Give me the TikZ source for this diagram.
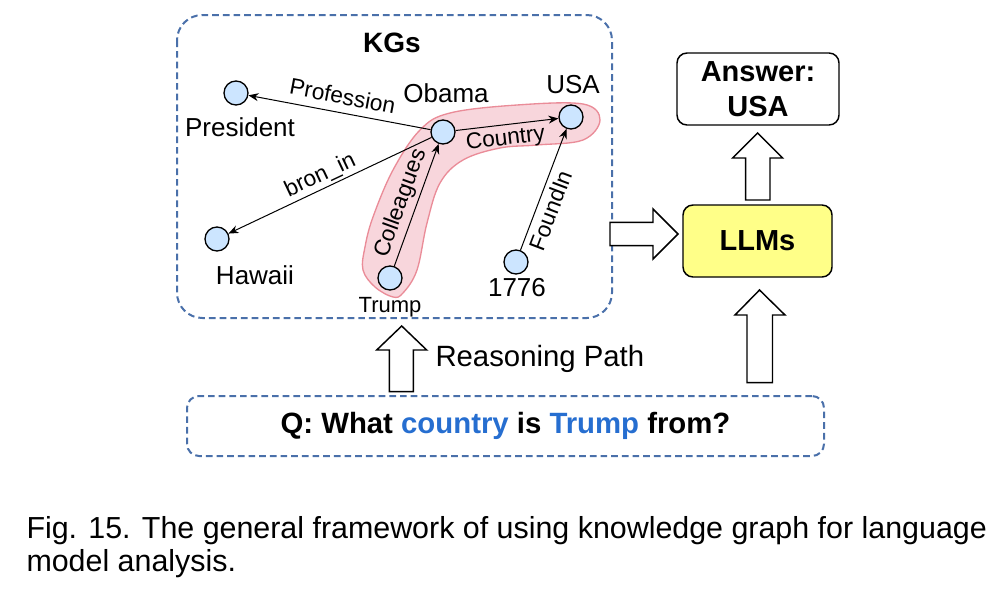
\documentclass[tikz,border=0pt]{standalone}
\usepackage{fontspec}
\setmainfont{Liberation Sans}
\usetikzlibrary{arrows.meta}

\definecolor{kgblue}{RGB}{74,112,170}
\definecolor{nodeblue}{RGB}{204,229,255}
\definecolor{bandfill}{RGB}{248,214,220}
\definecolor{bandline}{RGB}{234,140,152}
\definecolor{qblue}{RGB}{38,110,208}
\definecolor{llmyellow}{RGB}{255,255,136}

\tikzset{every picture/.style={line width=0.75pt}}
\tikzset{
  entity/.style={circle, draw, fill=nodeblue, minimum size=18pt, inner sep=0pt, line width=1pt},
  entlabel/.style={anchor=base, inner sep=0pt, font=\fontsize{19.5}{22}\selectfont},
  kgedge/.style={-{Stealth[length=7.5pt,width=6pt]}, line width=0.75pt},
  edgelabel/.style={inner sep=1.5pt, font=\fontsize{17}{19}\selectfont},
  dashbox/.style={draw=kgblue, line width=1.5pt, dash pattern={on 5pt off 3pt}, rounded corners=9pt},
  bigarrow/.style={draw, fill=white, line width=1.1pt, line join=miter},
}

\begin{document}
\begin{tikzpicture}[x=0.75pt,y=0.75pt,yscale=-1,xscale=1]
        \useasboundingbox (0,0) rectangle (1007,589);

        %Shape: KG frame
        \draw [dashbox, rounded corners=19pt] (177,15) rectangle (612,318);
        %Shape: reasoning path band
        \draw [draw=bandline, fill=bandfill, line width=1pt] plot [smooth cycle, tension=0.6] coordinates {(393,297) (375,287) (363,270) (365,247) (373,217) (393,170) (420,130) (450,113) (517,105) (583,104) (600,120) (583,140) (537,145) (500,148) (463,160) (440,183) (427,223) (417,270) (403,293)};

        % Text Node
        \node [anchor=base, inner sep=0pt, font=\fontsize{21}{24}\selectfont\bfseries] (kgtitle) at (392,52) {KGs};

        % Entities
        \node [entity] (president) at (236,93) {};
        \node [entity] (hawaii) at (217,239) {};
        \node [entity] (obama) at (443,132) {};
        \node [entity] (usa) at (571,117) {};
        \node [entity] (trump) at (390,278) {};
        \node [entity] (y1776) at (516,262) {};

        % Text Node
        \node [entlabel] (tpresident) at (240,136) {President};
        \node [entlabel] (thawaii) at (255,284) {Hawaii};
        \node [entlabel] (tobama) at (446,102.7) {Obama};
        \node [entlabel] (tusa) at (573,93) {USA};
        \node [entlabel, font=\fontsize{16.5}{18}\selectfont] (ttrump) at (390,312) {Trump};
        \node [entlabel] (t1776) at (517,296.7) {1776};

        %Straight Lines
        \draw [kgedge] (obama) -- (president) node [edgelabel, midway, rotate=-10.7, anchor=south, inner sep=6pt] (lprof) {Profession};
        \draw [kgedge] (obama) -- (hawaii) node [edgelabel, pos=0.52, rotate=25.3, anchor=south, inner sep=1.5pt] (lborn) {bron\_in};
        \draw [kgedge] (obama) -- (usa) node [edgelabel, pos=0.47, rotate=6.7, anchor=north, inner sep=3pt] (lcountry) {Country};
        \draw [kgedge] (trump) -- (obama) node [edgelabel, pos=0.47, rotate=70, anchor=south, inner sep=3pt] (lcolleagues) {Colleagues};
        \draw [kgedge] (y1776) -- (usa) node [edgelabel, pos=0.37, rotate=69.2, anchor=north, inner sep=4pt] (lfound) {FoundIn};

        %Shape: Answer and LLMs
        \node [draw, line width=1.1pt, rounded corners=7.5pt, minimum width=121.5pt, minimum height=54pt, align=center, font=\fontsize{21.75}{26}\selectfont\bfseries] (answer) at (758,89) {Answer:\\USA};
        \node [draw, line width=1.1pt, fill=llmyellow, rounded corners=7.5pt, minimum width=111.75pt, minimum height=54pt, font=\fontsize{21.75}{26}\selectfont\bfseries] (llms) at (757.5,241) {LLMs};

        %Shape: question
        \node [dashbox, minimum width=477.75pt, minimum height=45pt, font=\fontsize{22}{26}\selectfont\bfseries] (question) at (505.5,426) {Q: What \textcolor{qblue}{country} is \textcolor{qblue}{Trump} from?};

        %Shape: block arrows
        \draw [bigarrow] (610,222.3) -- (653,222.3) -- (653,209) -- (678,234) -- (653,259) -- (653,245.7) -- (610,245.7) -- cycle;
        \draw [bigarrow] (745.7,200) -- (745.7,158) -- (732.7,158) -- (757.7,133) -- (782.7,158) -- (770,158) -- (770,200) -- cycle;
        \draw [bigarrow] (747,382.7) -- (747,315) -- (735,315) -- (759.5,290) -- (785,315) -- (772.5,315) -- (772.5,382.7) -- cycle;
        \draw [bigarrow] (389.3,391.7) -- (389.3,350) -- (376.7,350) -- (401.7,326) -- (426.7,350) -- (413.3,350) -- (413.3,391.7) -- cycle;

        % Text Node
        \node [anchor=base west, inner sep=0pt, font=\fontsize{22}{26}\selectfont] (reasoning) at (435,366.7) {Reasoning Path};

        % Caption
        \node [anchor=base west, inner sep=0pt, align=left, font=\fontsize{22.8}{24.75}\selectfont] (caption) at (26,571) {Fig. 15. The general framework of using knowledge graph for language\\model analysis.};

\end{tikzpicture}
\end{document}
